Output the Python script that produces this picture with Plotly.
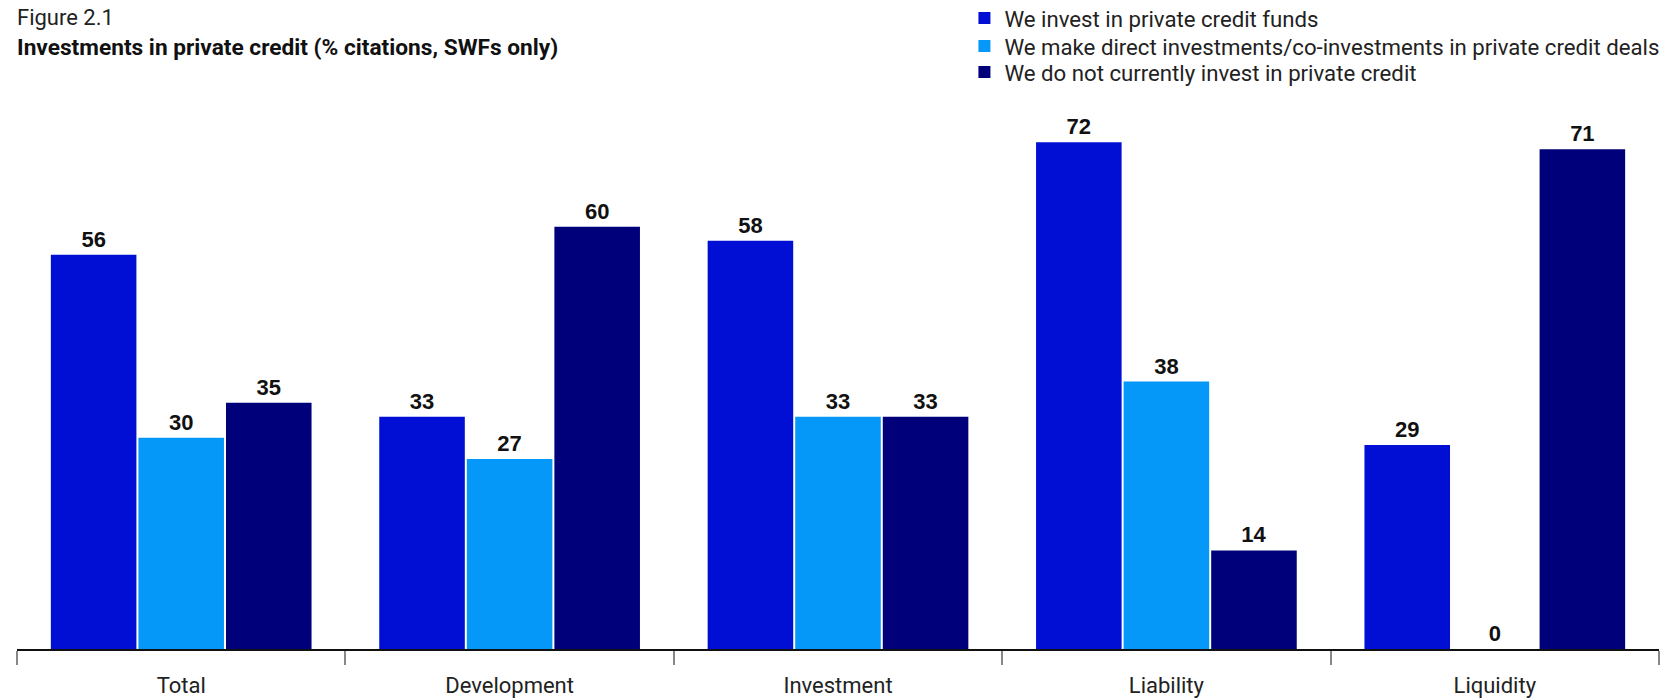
import plotly.graph_objects as go

categories = ["Total", "Development", "Investment", "Liability", "Liquidity"]
series_names = [
    "We invest in private credit funds",
    "We make direct investments/co-investments in private credit deals",
    "We do not currently invest in private credit",
]
funds = [56, 33, 58, 72, 29]
direct = [30, 27, 33, 38, 0]
not_invest = [35, 60, 33, 14, 71]
colors = ["#000FD3", "#0598F8", "#00007A"]

FONT = "Roboto"
W, H = 1676, 698
ML, MR, MT, MB = 17, 17, 100, 49
PH = H - MT - MB

def ypaper(ypix):
    return (H - MB - ypix) / PH

legend_ids = ["legend", "legend2", "legend3"]
row_y = [18, 46, 72]

fig = go.Figure()
for name, vals, col, lid in zip(series_names, [funds, direct, not_invest], colors, legend_ids):
    fig.add_trace(go.Bar(
        x=categories, y=vals, name=name, legend=lid,
        marker=dict(color=col, line=dict(width=0)),
        text=[str(v) for v in vals], textposition="outside",
        textfont=dict(family="Liberation Sans", size=22, color="#111111", weight="bold"),
        cliponaxis=False,
    ))

leg_common = dict(
    x=0.577, xanchor="left", yanchor="middle",
    font=dict(family=FONT, size=22.2, color="#222222"),
    itemwidth=30, bgcolor="rgba(0,0,0,0)",
)

fig.update_layout(
    width=W, height=H,
    margin=dict(l=ML, r=MR, t=MT, b=MB, autoexpand=False),
    paper_bgcolor="white", plot_bgcolor="white",
    barmode="group", bargap=0.2, bargroupgap=0.023,
    font=dict(family=FONT, size=22, color="#222222"),
    showlegend=True,
    legend=dict(y=ypaper(row_y[0]), **leg_common),
    legend2=dict(y=ypaper(row_y[1]), **leg_common),
    legend3=dict(y=ypaper(row_y[2]), **leg_common),
    xaxis=dict(
        type="category", tickson="boundaries", ticks="outside", ticklen=14,
        tickcolor="#888888", tickwidth=1.5, ticklabelstandoff=16,
        showline=True, linecolor="#111111", linewidth=1.5,
        tickfont=dict(family=FONT, size=22, color="#222222"),
        showgrid=False,
    ),
    yaxis=dict(range=[0, 78], visible=False, showgrid=False),
    annotations=[
        dict(text="Figure 2.1", xref="paper", yref="paper", x=-0.0012, y=ypaper(18),
             xanchor="left", yanchor="middle", showarrow=False,
             font=dict(family=FONT, size=22, color="#222222")),
        dict(text="<b>Investments in private credit (% citations, SWFs only)</b>",
             xref="paper", yref="paper", x=-0.0012, y=ypaper(47),
             xanchor="left", yanchor="middle", showarrow=False,
             font=dict(family=FONT, size=22.7, color="#111111")),
    ],
)

fig.write_html(
    "out.html",
    config={"displayModeBar": False},
    post_script="document.body.style.margin='0';document.body.style.padding='0';document.body.style.overflow='hidden';",
)
